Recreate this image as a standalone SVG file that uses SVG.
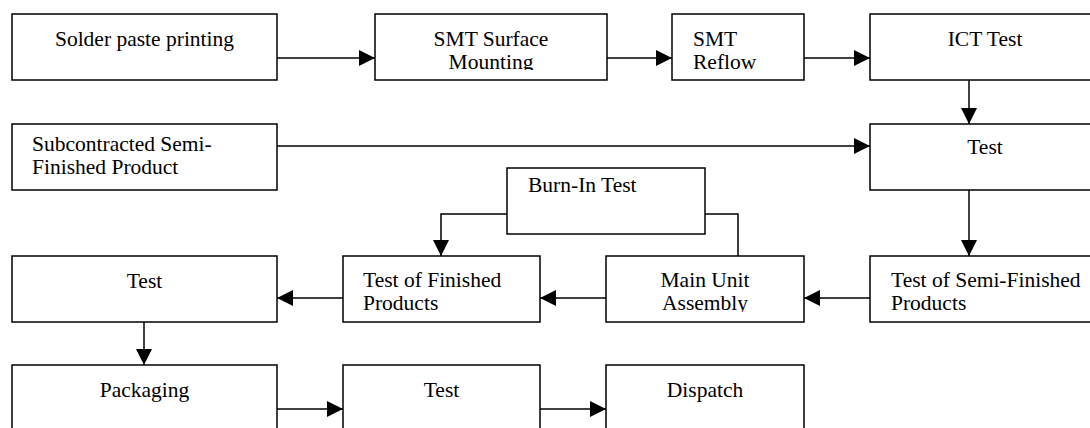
<svg xmlns="http://www.w3.org/2000/svg" width="1090" height="428" viewBox="0 0 1090 428">
<style>
.b{fill:#fff;stroke:#000;stroke-width:1.5}
.t{font-size:21.5px;fill:#000}
.c{text-anchor:middle}
.l{fill:none;stroke:#000;stroke-width:1.5}
</style>
<defs>
<marker id="a" viewBox="0 0 16 16" refX="16" refY="8" markerWidth="16" markerHeight="16" markerUnits="userSpaceOnUse" orient="auto">
<path d="M0,0 L16,8 L0,16 Z" fill="#000"/>
</marker>
<clipPath id="c1"><rect x="375" y="14" width="232" height="56"/></clipPath>
<clipPath id="c2"><rect x="606" y="256" width="198" height="56"/></clipPath>
</defs>
<g id="connectors">
<path class="l" d="M277,58 H375" marker-end="url(#a)"/>
<path class="l" d="M607,58 H672" marker-end="url(#a)"/>
<path class="l" d="M804,58 H870" marker-end="url(#a)"/>
<path class="l" d="M969,80 V124" marker-end="url(#a)"/>
<path class="l" d="M277,146 H870" marker-end="url(#a)"/>
<path class="l" d="M969,190 V256" marker-end="url(#a)"/>
<path class="l" d="M507,214 H441 V256" marker-end="url(#a)"/>
<path class="l" d="M705,214 H738 V256"/>
<path class="l" d="M870,298 H804" marker-end="url(#a)"/>
<path class="l" d="M606,298 H540" marker-end="url(#a)"/>
<path class="l" d="M343,298 H277" marker-end="url(#a)"/>
<path class="l" d="M144,322 V365" marker-end="url(#a)"/>
<path class="l" d="M277,409 H343" marker-end="url(#a)"/>
<path class="l" d="M540,409 H606" marker-end="url(#a)"/>
</g>
<g font-family="Liberation Serif, Times New Roman, DejaVu Serif, serif">
<g id="solder"><rect class="b" x="12" y="14" width="265" height="66"/><text class="t c" x="144.5" y="46">Solder paste printing</text></g>
<g id="smt-mount"><rect class="b" x="375" y="14" width="232" height="66"/><text class="t c" clip-path="url(#c1)"><tspan x="491" y="46">SMT Surface</tspan><tspan x="491" y="69">Mounting</tspan></text></g>
<g id="smt-reflow"><rect class="b" x="672" y="14" width="132" height="66"/><text class="t"><tspan x="693" y="46">SMT</tspan><tspan x="693" y="69">Reflow</tspan></text></g>
<g id="ict"><rect class="b" x="870" y="14" width="232" height="66"/><text class="t c" x="985" y="46">ICT Test</text></g>
<g id="subcon"><rect class="b" x="12" y="124" width="265" height="66"/><text class="t"><tspan x="32" y="151">Subcontracted Semi-</tspan><tspan x="32" y="174">Finished Product</tspan></text></g>
<g id="test1"><rect class="b" x="870" y="124" width="232" height="66"/><text class="t c" x="985" y="154">Test</text></g>
<g id="burnin"><rect class="b" x="507" y="168" width="198" height="66"/><text class="t" x="528" y="192">Burn-In Test</text></g>
<g id="test-left"><rect class="b" x="12" y="256" width="265" height="66"/><text class="t c" x="144.5" y="288">Test</text></g>
<g id="test-finished"><rect class="b" x="343" y="256" width="197" height="66"/><text class="t"><tspan x="363" y="287">Test of Finished</tspan><tspan x="363" y="310">Products</tspan></text></g>
<g id="main-unit"><rect class="b" x="606" y="256" width="198" height="66"/><text class="t c" clip-path="url(#c2)"><tspan x="705" y="287">Main Unit</tspan><tspan x="705" y="310">Assembly</tspan></text></g>
<g id="test-semi"><rect class="b" x="870" y="256" width="232" height="66"/><text class="t"><tspan x="891" y="287">Test of Semi-Finished</tspan><tspan x="891" y="310">Products</tspan></text></g>
<g id="packaging"><rect class="b" x="12" y="365" width="265" height="70"/><text class="t c" x="144.5" y="397">Packaging</text></g>
<g id="test-pack"><rect class="b" x="343" y="365" width="197" height="70"/><text class="t c" x="441.5" y="397">Test</text></g>
<g id="dispatch"><rect class="b" x="606" y="365" width="198" height="70"/><text class="t c" x="705" y="397">Dispatch</text></g>
</g>
</svg>
